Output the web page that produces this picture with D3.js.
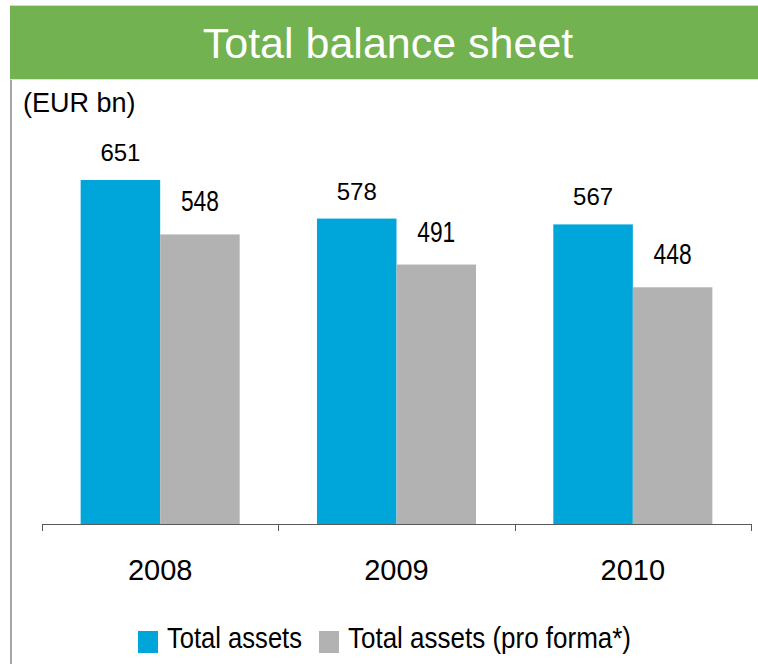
<!DOCTYPE html>
<html>
<head>
<meta charset="utf-8">
<script src="https://cdn.jsdelivr.net/npm/d3@7"></script>
<style>
  body { margin: 0; background: #fff; }
  text { font-family: "Liberation Sans", Arial, sans-serif; fill: #000; }
</style>
</head>
<body>
<div id="chart"></div>
<script>
const years = ['2008', '2009', '2010'];
const totalAssets = [651, 578, 567];
const totalAssetsProForma = [548, 491, 448];
const seriesNames = ['Total assets', 'Total assets (pro forma*)'];
const title = 'Total balance sheet';
const unitLabel = '(EUR bn)';

const width = 758;
const height = 664;
const colors = ['#00a6da', '#b2b2b2'];

const data = years.map((y, i) => ({ year: y, values: [totalAssets[i], totalAssetsProForma[i]] }));

const svg = d3.select('#chart').append('svg').attr('width', width).attr('height', height);

// header band
svg.append('rect').attr('x', 10).attr('y', 5).attr('width', width - 10).attr('height', 1).attr('fill', '#d9d9d9');
svg.append('rect').attr('x', 10).attr('y', 6).attr('width', width - 10).attr('height', 73).attr('fill', '#72b250');
svg.append('rect').attr('x', 10).attr('y', 79).attr('width', width - 10).attr('height', 1).attr('fill', '#d6e9cc');
svg.append('text')
    .attr('x', 388)
    .attr('y', 58)
    .attr('text-anchor', 'middle')
    .style('font-size', '43px')
    .style('fill', '#fff')
    .text(title);

// left border
svg.append('rect').attr('x', 10).attr('y', 80).attr('width', 2).attr('height', height - 80).attr('fill', '#a6a6a6');

svg.append('text').attr('x', 23).attr('y', 112).style('font-size', '27px').text(unitLabel);

const baseline = 524;
const yScale = d3.scaleLinear().domain([0, 700]).range([baseline, baseline - 700 * 0.5284]);

const x0 = d3.scaleBand().domain(years).range([42, 751]).paddingInner(0).paddingOuter(0);
const x1 = d3.scaleBand().domain([0, 1]).range([0, x0.bandwidth()]).paddingInner(0).paddingOuter(0.486);

const groups = svg
    .append('g')
    .selectAll('g')
    .data(data)
    .enter()
    .append('g')
    .attr('transform', (d) => `translate(${x0(d.year)},0)`);

groups
    .selectAll('rect')
    .data((d) => d.values)
    .enter()
    .append('rect')
    .attr('x', (d, i) => x1(i))
    .attr('width', x1.bandwidth())
    .attr('y', (d) => yScale(d))
    .attr('height', (d) => baseline - yScale(d))
    .attr('fill', (d, i) => colors[i]);

groups
    .selectAll('text.val')
    .data((d) => d.values)
    .enter()
    .append('text')
    .attr('class', 'val')
    .attr('x', (d, i) => x1(i) + x1.bandwidth() / 2)
    .attr('y', (d, i) => yScale(d) - (i === 0 ? 19 : 23))
    .attr('text-anchor', 'middle')
    .style('font-size', (d, i) => (i === 0 ? '24px' : '29px'))
    .attr('textLength', (d, i) => (i === 0 ? null : 38))
    .attr('lengthAdjust', 'spacingAndGlyphs')
    .text((d) => d);

// axis
const axis = svg
    .append('g')
    .attr('transform', `translate(0,${baseline})`)
    .call(d3.axisBottom(x0).tickSize(0).tickPadding(0).tickFormat(''));
axis.select('.domain').remove();
axis.append('line').attr('x1', 42).attr('x2', 751).attr('y1', 0.5).attr('y2', 0.5).attr('stroke', '#595959');
axis.selectAll('.bound')
    .data(d3.range(years.length + 1))
    .enter()
    .append('line')
    .attr('x1', (d) => Math.round(42 + d * x0.step()) + 0.5)
    .attr('x2', (d) => Math.round(42 + d * x0.step()) + 0.5)
    .attr('y1', 0)
    .attr('y2', 7)
    .attr('stroke', '#595959');

svg.append('g')
    .selectAll('text')
    .data(years)
    .enter()
    .append('text')
    .attr('x', (d) => x0(d) + x0.bandwidth() / 2)
    .attr('y', 580)
    .attr('text-anchor', 'middle')
    .style('font-size', '29px')
    .text((d) => d);

// legend
const legendX = [138, 319];
const legendTextLen = [135, 283];
const legend = svg
    .append('g')
    .selectAll('g')
    .data(seriesNames)
    .enter()
    .append('g')
    .attr('transform', (d, i) => `translate(${legendX[i]},0)`);
legend.append('rect').attr('x', 0).attr('y', 631).attr('width', 20).attr('height', 22).attr('fill', (d, i) => colors[i]);
legend
    .append('text')
    .attr('x', 29)
    .attr('y', 648)
    .style('font-size', '29px')
    .attr('textLength', (d, i) => legendTextLen[i])
    .attr('lengthAdjust', 'spacingAndGlyphs')
    .text((d) => d);
</script>
</body>
</html>
